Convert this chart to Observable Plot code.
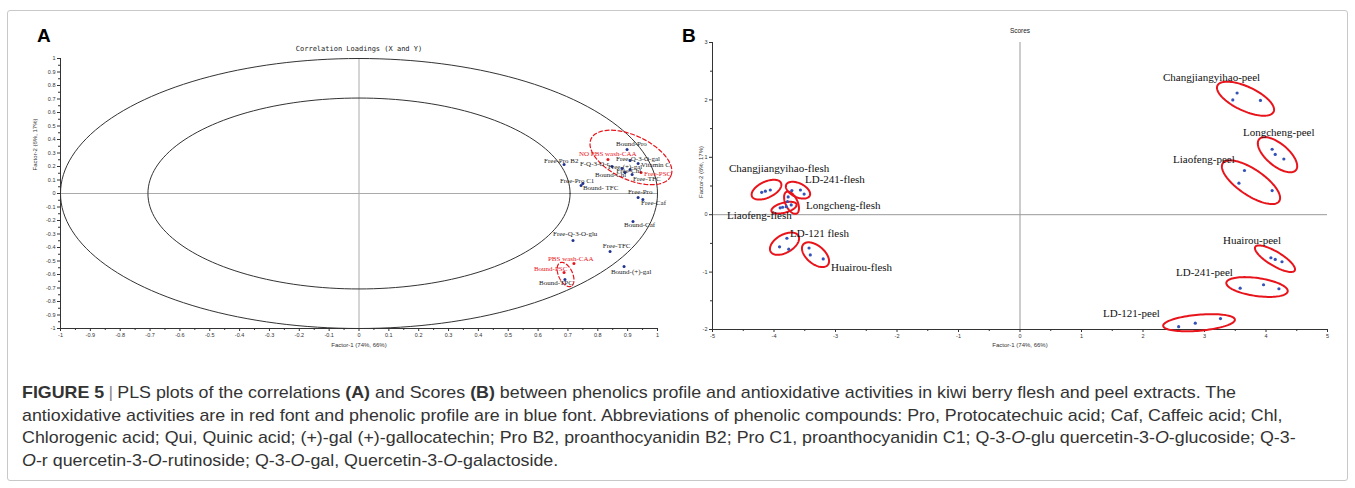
<!DOCTYPE html>
<html><head><meta charset="utf-8">
<script src="https://cdn.jsdelivr.net/npm/d3@7"></script>
<script src="https://cdn.jsdelivr.net/npm/@observablehq/plot@0.6"></script>
<style>
body{margin:0;background:#fff;width:1355px;height:488px;overflow:hidden;position:relative;font-family:"Liberation Sans",Arial,sans-serif}
#frame{position:absolute;left:7px;top:10px;width:1341px;height:471px;border:1px solid #c8c8c8;border-radius:3px;box-sizing:border-box}
#pa{position:absolute;left:0;top:0}
#pb{position:absolute;left:680px;top:0}
.letter{position:absolute;font-weight:bold;font-size:19px;font-family:"Liberation Sans",Arial,sans-serif;color:#000}
#caption{position:absolute;left:22px;top:382px;font-family:"Liberation Sans Narrow","Liberation Sans",Arial,sans-serif;font-size:17px;line-height:22.5px;color:#333;white-space:nowrap;transform-origin:0 0}
#caption div{display:block}
#caption .sep{color:#888;padding:0 4px}
</style></head><body>
<div id="frame"></div>
<div id="pa"></div>
<div id="pb"></div>
<div class="letter" style="left:37px;top:25px">A</div>
<div class="letter" style="left:682px;top:25px">B</div>
<div id="caption">
<div id="cap1"><span><b>FIGURE 5</b><span class="sep">|</span>PLS plots of the correlations <b>(A)</b> and Scores <b>(B)</b> between phenolics profile and antioxidative activities in kiwi berry flesh and peel extracts. The</span></div>
<div>antioxidative activities are in red font and phenolic profile are in blue font. Abbreviations of phenolic compounds: Pro, Protocatechuic acid; Caf, Caffeic acid; Chl,</div>
<div>Chlorogenic acid; Qui, Quinic acid; (+)-gal (+)-gallocatechin; Pro B2, proanthocyanidin B2; Pro C1, proanthocyanidin C1; Q-3-<i>O</i>-glu quercetin-3-<i>O</i>-glucoside; Q-3-</div>
<div><i>O</i>-r quercetin-3-<i>O</i>-rutinoside; Q-3-<i>O</i>-gal, Quercetin-3-<i>O</i>-galactoside.</div>
</div>
<script>
// ---------- Panel A data: correlation loadings ----------
const phenolNames = ["Bound-Pro","Free-Pro B2","F-Q-3-O-r","Free-Q-3-O-gal","Free-(+)-gal","Bound-Chl","Free-Chl","Free-TFC","Free-Pro C1","Bound- TFC","Free-Pro","Free-Caf","Bound-Caf","Free-Q-3-O-glu","Free-TFC","Bound-(+)-gal","Bound-TPC","Vitamin C"];
const phenolX = [0.898,0.687,0.848,0.908,0.881,0.891,0.908,0.915,0.750,0.744,0.935,0.951,0.918,0.717,0.841,0.888,0.690,0.935];
const phenolY = [0.326,0.215,0.200,0.244,0.185,0.156,0.178,0.141,0.074,0.059,-0.030,-0.044,-0.207,-0.348,-0.430,-0.541,-0.637,0.222];
const phenolLabelX = [0.861,0.620,0.740,0.861,0.834,0.791,0.862,0.918,0.673,0.750,0.901,0.945,0.888,0.650,0.817,0.844,0.603,0.945];
const phenolLabelY = [0.370,0.244,0.222,0.258,0.200,0.142,0.170,0.108,0.096,0.044,0.015,-0.067,-0.230,-0.296,-0.385,-0.578,-0.659,0.215];

const activityNames = ["NO PBS wash-CAA","Free-PSC","PBS wash-CAA","Bound-PSC"];
const activityX = [0.834,0.945,0.720,0.687];
const activityY = [0.252,0.156,-0.519,-0.585];
const activityLabelX = [0.737,0.955,0.633,0.586];
const activityLabelY = [0.296,0.148,-0.481,-0.556];

// dashed group ellipses (centre in data units)
const loadEllCX = [0.911,0.692];
const loadEllCY = [0.267,-0.600];
const radii = [1, Math.SQRT1_2];

// ---------- Panel B data: scores ----------
const groupNames = ["Changjiangyihao-flesh","LD-241-flesh","Longcheng-flesh","Liaofeng-flesh","LD-121 flesh","Huairou-flesh","Changjiangyihao-peel","Longcheng-peel","Liaofeng-peel","Huairou-peel","LD-241-peel","LD-121-peel"];
const scoreX = [
  [-4.20,-4.14,-4.06],[-3.71,-3.57,-3.51],[-3.77,-3.78,-3.72],[-3.90,-3.86,-3.80],
  [-3.91,-3.79,-3.76],[-3.43,-3.41,-3.20],[3.53,3.46,3.91],[4.10,4.15,4.29],
  [3.65,3.56,4.10],[4.08,4.15,4.26],[3.58,3.96,4.21],[2.58,2.85,3.26]];
const scoreY = [
  [0.39,0.41,0.43],[0.42,0.43,0.36],[0.31,0.23,0.17],[0.12,0.13,0.14],
  [-0.56,-0.41,-0.60],[-0.58,-0.70,-0.77],[2.12,2.00,1.99],[1.14,1.05,0.97],
  [0.77,0.55,0.42],[-0.75,-0.78,-0.82],[-1.28,-1.22,-1.29],[-1.95,-1.89,-1.81]];
const groupLabelX = [-4.732,-3.496,-3.480,-4.764,-3.740,-3.073,2.325,3.626,2.488,3.301,2.537,1.350];
const groupLabelY = [0.801,0.610,0.157,-0.017,-0.331,-0.923,2.387,1.429,0.958,-0.453,-1.010,-1.725];
const groupEllCX = [-4.122,-3.610,-3.715,-3.837,-3.829,-3.325,3.667,4.187,3.756,4.146,3.854,2.911];
const groupEllCY = [0.436,0.427,0.209,0.122,-0.505,-0.697,2.021,1.045,0.566,-0.767,-1.260,-1.882];

// ---------- styles / shapes ----------
const loadEllShape = [{a:44,b:22,th:25},{a:13,b:7,th:65}];
const groupEllShape = [{a:16,b:8,th:-25},{a:13,b:7,th:25},{a:12,b:6,th:65},{a:13,b:5,th:-15},{a:16,b:9,th:-30},{a:16,b:9,th:40},
  {a:31,b:12,th:25},{a:24,b:11,th:40},{a:34,b:13,th:34},{a:23,b:7,th:31},{a:31,b:9,th:8},{a:36,b:8,th:-5}];

function ellipse(cx, cy, s, kx, ky, id){
  const th = s.th*Math.PI/180;
  return d3.range(0,97).map(i=>{
    const t = i/96*2*Math.PI;
    const px = s.a*Math.cos(t)*Math.cos(th) - s.b*Math.sin(t)*Math.sin(th);
    const py = s.a*Math.cos(t)*Math.sin(th) + s.b*Math.sin(t)*Math.cos(th);
    return {x: cx + px/kx, y: cy - py/ky, id};
  });
}
const fmt = d => { const r = Math.round(d*100)/100; return (r<0?"-":"") + String(Math.abs(r)); };
const RED = "#e8141c", NAVY = "#22338f", BLUE = "#3552b8";
const serif = "Liberation Serif, Times New Roman, serif";

// ---------- Panel A ----------
{
  const W=680, H=360, ml=60, mr=23, mt=58, mb=32;
  const kx=(W-ml-mr)/2, ky=(H-mt-mb)/2;
  const circ = radii.flatMap((r,k)=>d3.range(0,181).map(i=>({x:r*Math.cos(i/180*2*Math.PI), y:r*Math.sin(i/180*2*Math.PI), id:k})));
  const ells = loadEllCX.flatMap((cx,i)=>ellipse(cx, loadEllCY[i], loadEllShape[i], kx, ky, i));
  const phen = phenolNames.map((n,i)=>({n, x:phenolX[i], y:phenolY[i], lx:phenolLabelX[i], ly:phenolLabelY[i]}));
  const act = activityNames.map((n,i)=>({n, x:activityX[i], y:activityY[i], lx:activityLabelX[i], ly:activityLabelY[i]}));
  const major = d3.range(-10,11).map(i=>i/10);
  const minor = d3.range(-20,21).filter(i=>i%2!==0).map(i=>i/20);
  const svg = Plot.plot({
    width:W, height:H, marginLeft:ml, marginRight:mr, marginTop:mt, marginBottom:mb,
    x:{domain:[-1,1]}, y:{domain:[-1,1]},
    style:{fontSize:"5.5px", fontFamily:"Liberation Sans, Arial, sans-serif", color:"#333", background:"transparent"},
    marks:[
      Plot.ruleX([0],{stroke:"#aaa", strokeWidth:1}),
      Plot.ruleY([0],{stroke:"#aaa", strokeWidth:1}),
      Plot.line(circ,{x:"x", y:"y", z:"id", stroke:"#333", strokeWidth:1, curve:"linear-closed"}),
      Plot.ruleX([-1],{stroke:"#333"}),
      Plot.ruleY([-1],{stroke:"#333"}),
      Plot.axisX({ticks:major, tickFormat:fmt, tickSize:3, tickPadding:2, label:null}),
      Plot.axisX({ticks:minor, tickFormat:()=>"", tickSize:2, label:null}),
      Plot.axisY({ticks:major, tickFormat:fmt, tickSize:3, tickPadding:2, label:null}),
      Plot.axisY({ticks:minor, tickFormat:()=>"", tickSize:2, label:null}),
      Plot.line(ells,{x:"x", y:"y", z:"id", stroke:RED, strokeWidth:1.2, strokeDasharray:"4,2.5"}),
      Plot.dot(phen,{x:"x", y:"y", r:1.5, fill:NAVY, stroke:null}),
      Plot.dot(act,{x:"x", y:"y", r:1.5, fill:RED, stroke:null}),
      Plot.text(phen,{x:"lx", y:"ly", text:"n", textAnchor:"start", fontSize:7, fontFamily:serif, fill:"#222"}),
      Plot.text(act,{x:"lx", y:"ly", text:"n", textAnchor:"start", fontSize:7, fontFamily:serif, fill:RED}),
      Plot.text(["Correlation Loadings (X and Y)"],{frameAnchor:"top", dy:-12, fontSize:7, fontFamily:"DejaVu Sans Mono, monospace", fill:"#222"}),
      Plot.text(["Factor-1 (74%, 66%)"],{frameAnchor:"bottom", dy:18, fontSize:6, fill:"#333"}),
      Plot.text(["Factor-2 (6%, 17%)"],{frameAnchor:"left", dx:-25, dy:-23, rotate:-90, fontSize:6, fill:"#333"})
    ]
  });
  document.getElementById("pa").append(svg);
}

// ---------- Panel B ----------
{
  const W=675, H=360, ml=32, mr=28, mt=42, mb=31;
  const kx=(W-ml-mr)/10, ky=(H-mt-mb)/5;
  const pts = groupNames.flatMap((g,i)=>scoreX[i].map((x,j)=>({g, x, y:scoreY[i][j]})));
  const labs = groupNames.map((g,i)=>({g, x:groupLabelX[i], y:groupLabelY[i]}));
  const ells = groupNames.flatMap((g,i)=>ellipse(groupEllCX[i], groupEllCY[i], groupEllShape[i], kx, ky, i));
  const svg = Plot.plot({
    width:W, height:H, marginLeft:ml, marginRight:mr, marginTop:mt, marginBottom:mb,
    x:{domain:[-5,5]}, y:{domain:[-2,3]},
    style:{fontSize:"5.5px", fontFamily:"Liberation Sans, Arial, sans-serif", color:"#333", background:"transparent"},
    marks:[
      Plot.ruleX([0],{stroke:"#999", strokeWidth:1}),
      Plot.ruleY([0],{stroke:"#999", strokeWidth:1}),
      Plot.ruleX([-5],{stroke:"#333"}),
      Plot.ruleY([-2],{stroke:"#333"}),
      Plot.axisX({ticks:d3.range(-5,6), tickFormat:fmt, tickSize:3, tickPadding:2, label:null}),
      Plot.axisX({ticks:d3.range(-4.5,5,1), tickFormat:()=>"", tickSize:2, label:null}),
      Plot.axisY({ticks:d3.range(-2,4), tickFormat:fmt, tickSize:3, tickPadding:2, label:null}),
      Plot.axisY({ticks:d3.range(-1.5,3,1), tickFormat:()=>"", tickSize:2, label:null}),
      Plot.line(ells,{x:"x", y:"y", z:"id", stroke:RED, strokeWidth:2}),
      Plot.dot(pts,{x:"x", y:"y", r:1.6, fill:BLUE, stroke:null}),
      Plot.text(labs,{x:"x", y:"y", text:"g", textAnchor:"start", fontSize:11, fontFamily:serif, fill:"#111"}),
      Plot.text(["Scores"],{frameAnchor:"top", dy:-14, fontSize:6.5, fill:"#222"}),
      Plot.text(["Factor-1 (74%, 66%)"],{frameAnchor:"bottom", dy:17, fontSize:6, fill:"#333"}),
      Plot.text(["Factor-2 (6%, 17%)"],{frameAnchor:"left", dx:-11, dy:12, rotate:-90, fontSize:6, fill:"#333"})
    ]
  });
  document.getElementById("pb").append(svg);
}

// fit caption width to the reference line length (line 1 spans 22..1236 px)
{
  const cap = document.getElementById("caption");
  const w = document.querySelector("#cap1 > span").getBoundingClientRect().width;
  const s = 1214 / w;
  cap.style.transform = `scale(${s}, 1)`;
}
</script>
</body></html>
